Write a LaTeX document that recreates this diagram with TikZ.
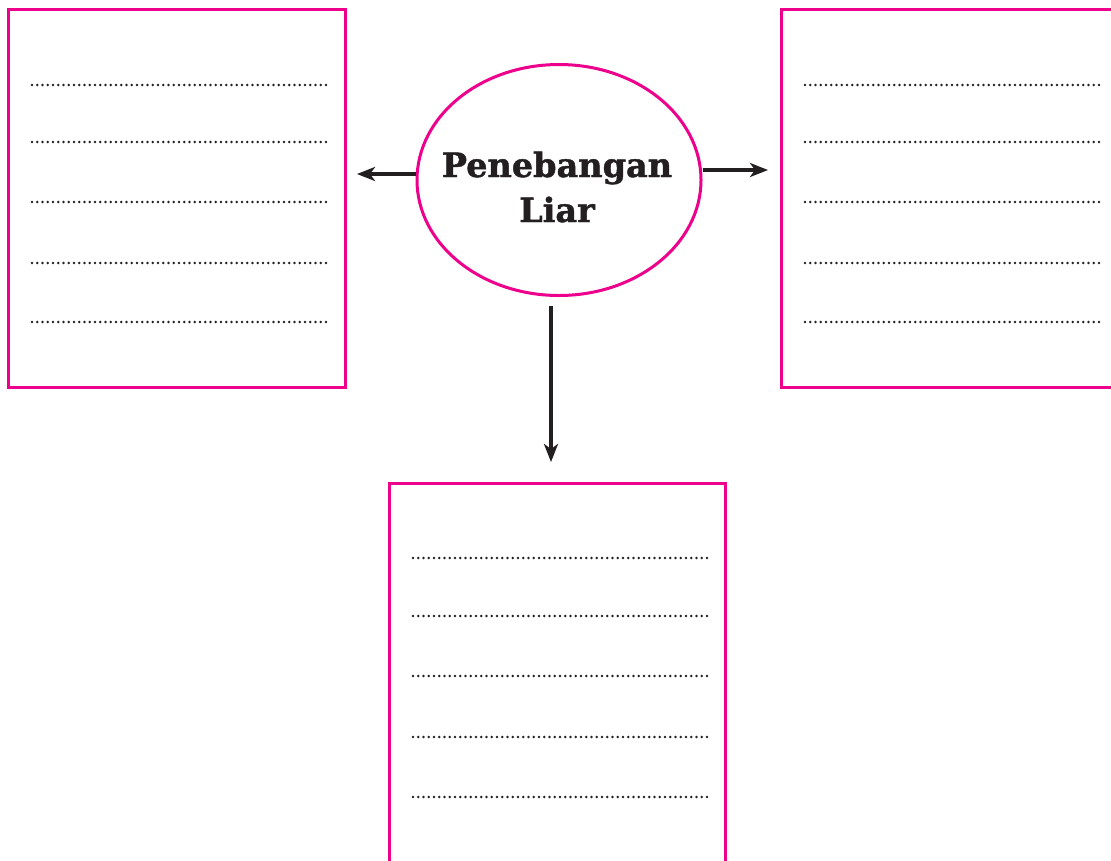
\documentclass[tikz,border=0pt]{standalone}
\usepackage{fontspec}
\newfontfamily\titlefont[BoldFeatures={FakeBold=1.3}]{DejaVu Serif}
\usetikzlibrary{shapes.geometric,arrows.meta}
\definecolor{pinkline}{HTML}{EC008C}
\definecolor{inkdark}{HTML}{231F20}
\begin{document}
\begin{tikzpicture}[x=1pt,y=-1pt,
  box/.style={draw=pinkline,line width=3pt,rectangle,inner sep=0pt},
  oval/.style={draw=pinkline,line width=3pt,ellipse,inner sep=0pt,minimum width=284pt,minimum height=231pt},
  arr/.style={draw=inkdark,line width=3.4pt,-{Stealth[length=18pt,width=14pt,inset=5pt]}},
  dotline/.style={draw=inkdark,line width=2.8pt,line cap=round,dash pattern=on 0pt off 5.25pt},
  title/.style={font=\titlefont\bfseries\fontsize{33.5}{45}\selectfont,text=inkdark,anchor=base,inner sep=0pt}]
\useasboundingbox (0,0) rectangle (1111,860);
\clip (0,0) rectangle (1111,860);
% boxes
\node[box,minimum width=337pt,minimum height=378pt] (L) at (176.5,198) {};
\node[box,minimum width=349pt,minimum height=378pt] (R) at (955.5,198) {};
\node[box,minimum width=336pt,minimum height=397pt] (B) at (557,681.5) {};
% central ellipse
\node[oval] (c) at (559,180) {};
\node[title] (t1) at (557,177) {Penebangan};
\node[title] (t2) at (557,222) {Liar};
% arrows
\coordinate (la) at (357,174);
\coordinate (ra) at (768,170);
\coordinate (da) at (551,462);
\draw[arr] (c.west |- la) -- (la);
\draw[arr] (c.east |- ra) -- (ra);
\draw[arr] ([yshift=-9pt]c.south -| da) -- (da);
% dotted lines
\foreach \y in {85,142,202,263,322}{
  \draw[dotline] (32,\y) -- (327,\y);
  \draw[dotline] (805,\y) -- (1100,\y);
}
\foreach \y in {558,616,676,737,797}{
  \draw[dotline] (413,\y) -- (708,\y);
}
\end{tikzpicture}
\end{document}
